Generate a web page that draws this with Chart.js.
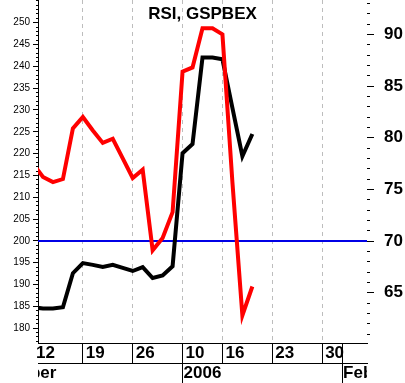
<!DOCTYPE html>
<html>
<head>
<meta charset="utf-8">
<script src="https://cdn.jsdelivr.net/npm/chart.js@4"></script>
<style>
    html, body { margin: 0; padding: 0; background: #fff; }
    #chart { display: block; }
</style>
</head>
<body>
<canvas id="chart" width="405" height="383"></canvas>
<script>
// RSI and GSPBEX, daily, Dec 2005 - Jan 2006
// x axis = trading day slot (index into dayLabels)

const FONT = '"Liberation Sans", Arial, sans-serif';

// trading days, one slot each
const dayLabels = ['12', '13', '14', '15', '16', '19', '20', '21', '22', '23',
                   '26', '27', '28', '29', '30',
                   '10', '11', '12', '13', '16', '17', '18', '19', '20',
                   '23', '24', '25', '26', '27', '30', '31',
                   '1', '2', '3'];
// slots with a dashed grid line, and slots with a divider in the date row
const gridSlots = [5, 10, 15, 19, 24, 29];
const dayTickSlots = [0, 5, 10, 15, 19, 24, 29, 31];
// month row: name and the slot where it starts
const monthNames = ['December', '2006', 'Feb'];
const monthSlots = [-6, 15, 31];

// red line, right axis
const rsiValues = [77.5, 76.2, 75.7, 76.0, 80.9, 82.0, 80.7, 79.5, 79.9, 78.0,
                   76.1, 76.9, 69.1, 70.3, 72.8, 86.4, 86.8, 90.6, 90.6, 90.0,
                   75.7, 62.8, 65.6];
// black line, left axis
const indexValues = [184.8, 184.5, 184.5, 184.8, 192.6, 194.9, 194.5, 194.0, 194.5, 193.8,
                     193.1, 194.0, 191.5, 192.1, 194.2, 220.1, 222.2, 242.0, 242.0, 241.6,
                     230.5, 219.4, 224.5];
const overboughtLevel = 70;

const leftTickLabels = [180, 185, 190, 195, 200, 205, 210, 215, 220, 225, 230, 235, 240, 245, 250];
const rightTickLabels = [65, 70, 75, 80, 85, 90];

const titleText = 'RSI, GSPBEX';

// axis ranges
const X_MIN = 0.5, X_MAX = 33.5;
const LEFT_MIN = 176.6, LEFT_MAX = 255.2;
const RIGHT_MIN = 60.13, RIGHT_MAX = 93.33;

const CLEAR = 'rgba(0,0,0,0)';


function toPoints(values) {
    return values.map(function(v, i) { return { x: i, y: v }; });
}

// one tick per whole unit, labels only on the listed ones
function unitTicks(scale) {
    const t = [];
    for (let v = Math.ceil(scale.min); v <= Math.floor(scale.max); v++) {
        t.push({ value: v });
    }
    scale.ticks = t;
}

function noPadding(scale) {
    scale.paddingTop = 0;
    scale.paddingBottom = 0;
    scale.paddingLeft = 0;
    scale.paddingRight = 0;
}

// title inside the plot + month names clipped to the plot width
const extraText = {
    id: 'extraText',
    afterDraw(chart) {
        const ctx = chart.ctx;
        const area = chart.chartArea;
        const x2 = chart.scales.x2;
        ctx.save();
        ctx.fillStyle = '#000';
        ctx.font = 'bold 17px ' + FONT;
        ctx.textAlign = 'center';
        ctx.textBaseline = 'middle';
        ctx.fillText(titleText, (area.left + area.right) / 2, area.top + 14);

        ctx.beginPath();
        ctx.rect(area.left, x2.top, area.right - area.left, x2.height);
        ctx.clip();
        ctx.textAlign = 'left';
        for (let i = 0; i < monthNames.length; i++) {
            ctx.fillText(monthNames[i], x2.getPixelForValue(monthSlots[i]) + 1, x2.top + 10);
        }
        ctx.restore();
    }
};


const ctx = document.getElementById('chart').getContext('2d');
new Chart(ctx, {
    type: 'line',
    data: {
        datasets: [{
            label: 'RSI',
            data: toPoints(rsiValues),
            xAxisID: 'x',
            yAxisID: 'yR',
            borderColor: '#ff0000',
            borderWidth: 4,
            pointRadius: 0,
            tension: 0,
            clip: 0,
            order: 0
        }, {
            label: 'GSPBEX',
            data: toPoints(indexValues),
            xAxisID: 'x',
            yAxisID: 'yL',
            borderColor: '#000000',
            borderWidth: 4,
            pointRadius: 0,
            tension: 0,
            clip: 0,
            order: 1
        }, {
            label: 'RSI 70',
            data: [{ x: X_MIN, y: overboughtLevel }, { x: X_MAX, y: overboughtLevel }],
            xAxisID: 'x',
            yAxisID: 'yR',
            borderColor: '#0000e6',
            borderWidth: 2,
            pointRadius: 0,
            clip: 0,
            order: 2
        }]
    },
    options: {
        responsive: false,
        animation: false,
        devicePixelRatio: 1,
        layout: { padding: 0 },
        plugins: {
            legend: { display: false },
            tooltip: { enabled: false },
            title: { display: false }
        },
        scales: {
            x: {
                type: 'linear',
                position: 'bottom',
                weight: 0,
                min: X_MIN,
                max: X_MAX,
                afterBuildTicks: function(s) {
                    s.ticks = dayTickSlots.map(function(v) { return { value: v }; });
                },
                afterFit: function(s) { s.height = 20; noPadding(s); },
                grid: {
                    color: function(c) {
                        return c.tick && gridSlots.includes(c.tick.value) ? '#bdbdbd' : CLEAR;
                    },
                    lineWidth: 1,
                    tickLength: 20,
                    tickWidth: 1,
                    tickColor: function(c) {
                        return c.tick && c.tick.value > X_MIN ? '#000' : CLEAR;
                    }
                },
                border: { display: true, color: '#000', width: 1, dash: [4, 4] },
                ticks: {
                    autoSkip: false,
                    maxRotation: 0,
                    align: 'start',
                    labelOffset: 3,
                    padding: -20,
                    color: '#000',
                    font: { family: FONT, size: 17, weight: 'bold' },
                    callback: function(v) { return v === 31 ? '' : dayLabels[v]; }
                }
            },
            x2: {
                type: 'linear',
                position: 'bottom',
                weight: 1,
                min: X_MIN,
                max: X_MAX,
                afterBuildTicks: function(s) {
                    s.ticks = monthSlots.filter(function(v) { return v > X_MIN; })
                        .map(function(v) { return { value: v }; });
                },
                afterFit: function(s) { s.height = 20; noPadding(s); },
                grid: {
                    drawOnChartArea: false,
                    tickLength: 20,
                    tickWidth: 1,
                    tickColor: '#000'
                },
                border: { display: true, color: '#000', width: 1 },
                ticks: { display: false }
            },
            yL: {
                type: 'linear',
                position: 'left',
                min: LEFT_MIN,
                max: LEFT_MAX,
                afterBuildTicks: unitTicks,
                afterFit: function(s) { s.width = 38; noPadding(s); },
                grid: {
                    drawOnChartArea: false,
                    tickLength: 5,
                    tickWidth: 1,
                    tickColor: '#000',
                    tickBorderDash: function(c) {
                        return c.tick && leftTickLabels.includes(c.tick.value) ? [] : [2, 3];
                    },
                    tickBorderDashOffset: function(c) {
                        return c.tick && leftTickLabels.includes(c.tick.value) ? 0 : 2;
                    }
                },
                border: { display: true, color: '#000', width: 1 },
                ticks: {
                    autoSkip: false,
                    padding: 3,
                    color: '#000',
                    font: { family: FONT, size: 10 },
                    callback: function(v) { return leftTickLabels.includes(v) ? String(v) : ''; }
                }
            },
            yR: {
                type: 'linear',
                position: 'right',
                min: RIGHT_MIN,
                max: RIGHT_MAX,
                afterBuildTicks: unitTicks,
                afterFit: function(s) { s.width = 38; noPadding(s); },
                grid: {
                    drawOnChartArea: false,
                    tickLength: 7,
                    tickWidth: 1,
                    tickColor: '#000',
                    tickBorderDash: function(c) {
                        return c.tick && rightTickLabels.includes(c.tick.value) ? [] : [3, 10];
                    }
                },
                border: { display: false },
                ticks: {
                    autoSkip: false,
                    padding: 10,
                    color: '#000',
                    font: { family: FONT, size: 17, weight: 'bold' },
                    callback: function(v) { return rightTickLabels.includes(v) ? String(v) : ''; }
                }
            }
        }
    },
    plugins: [extraText]
});
</script>
</body>
</html>
